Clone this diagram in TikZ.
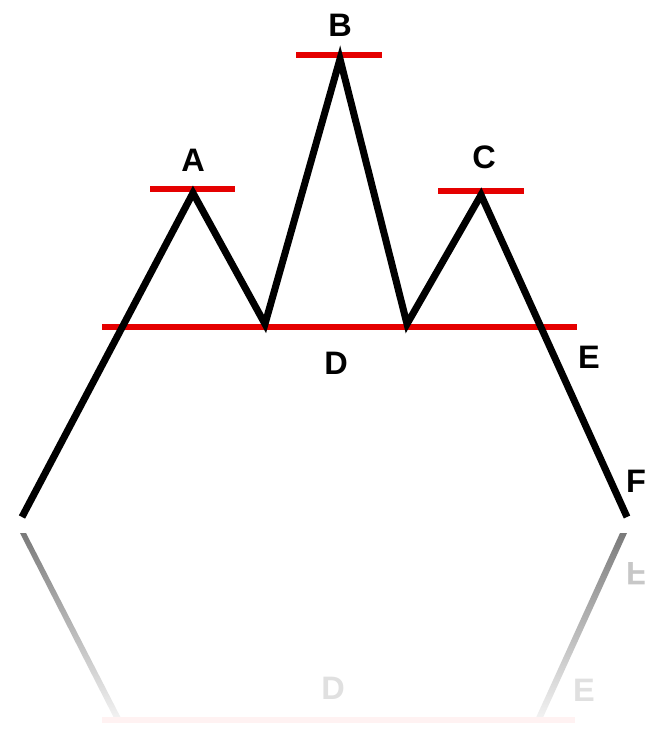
\documentclass[tikz,border=0pt]{standalone}
\usepackage{fontspec}
\setmainfont{Liberation Sans}
\usetikzlibrary{positioning}

\begin{document}
\begin{tikzpicture}[
    x=0.02cm, y=-0.02cm,
    trend/.style={line width=4pt, black, line join=miter},
    level/.style={line width=3pt, red!90!black},
    lbl/.style={font=\bfseries\fontsize{18.5}{18.5}\selectfont, inner sep=0pt},
    ghost/.style={lbl, text=black!12}
]
    \useasboundingbox (0,0) rectangle (647,733);

    % vertices of the pattern
    \coordinate (lo) at (22,517);
    \coordinate (pa) at (193,193);
    \coordinate (v1) at (265,324);
    \coordinate (pb) at (340,59);
    \coordinate (v2) at (407,324);
    \coordinate (pc) at (481,195);
    \coordinate (hi) at (627,517);

    % red levels
    \draw[level] (102,327) coordinate (dl) -- (577,327) coordinate (dr);
    \draw[level] (150,189) coordinate (al) -- (235,189) coordinate (ar);
    \draw[level] (296,55) coordinate (bl) -- (382,55) coordinate (br);
    \draw[level] (438,191) coordinate (cl) -- (524,191) coordinate (cr);

    \draw[trend] (lo) -- (pa) -- (v1) -- (pb) -- (v2) -- (pc) -- (hi);

    % labels
    \node[lbl] (la) at (193,160) {A};
    \node[lbl] (lb) at (340,25) {B};
    \node[lbl] (lc) at (484,157) {C};
    \node[lbl] (ld) at (336,363) {D};
    \node[lbl] (le) at (589,357) {E};
    \node[lbl] (lf) at (636,481) {F};

    % reflection
    \shade[top color=black!52, bottom color=black!4]
        (20,533) -- (26,533) -- (123,722) -- (116,722) -- cycle;
    \shade[top color=black!52, bottom color=black!4]
        (620,533) -- (627,533) -- (541,722) -- (534,722) -- cycle;
    \draw[line width=3pt, red!5] (102,720) coordinate (rl) -- (575,720) coordinate (rr);
    \node[ghost] (gd) at (333,688) {D};
    \node[ghost] (ge) at (584,690) {E};
    \node[lbl, text=black!22, yscale=-1] (gf) at (636,574) {F};
\end{tikzpicture}
\end{document}
